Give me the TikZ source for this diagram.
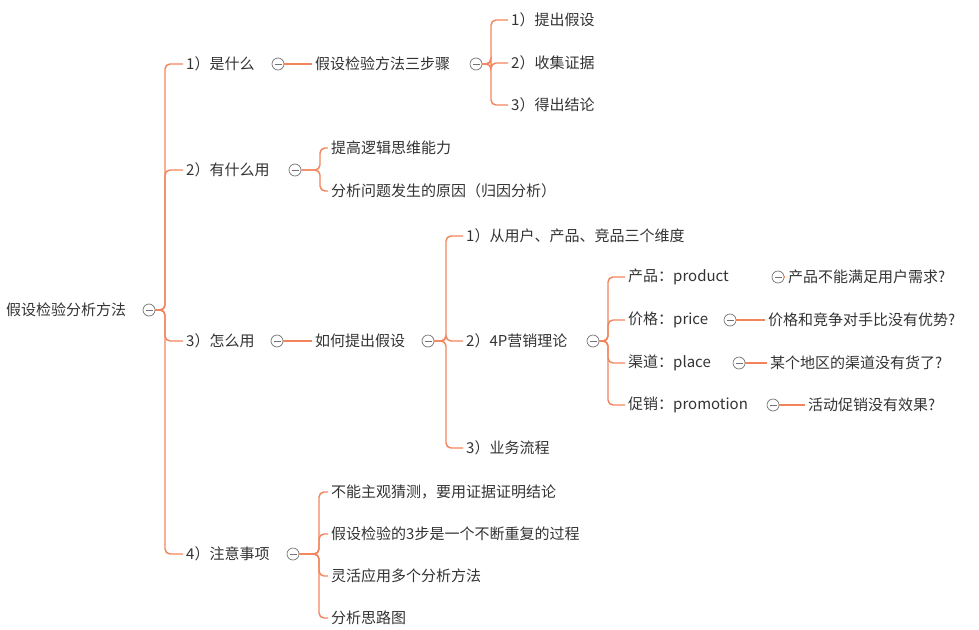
\documentclass[tikz,border=0pt]{standalone}
\usepackage{fontspec}
\setmainfont{Noto Sans CJK SC}
\begin{document}
\begin{tikzpicture}[x=1pt,y=-1pt,
  t/.style={anchor=west,inner sep=3pt,font=\fontsize{15}{17}\selectfont,text=black!80},
  fold/.style={circle,draw=black!55,line width=0.7pt,minimum size=12pt,inner sep=0pt,
    path picture={\draw[black!55,line width=0.7pt] ([xshift=-3.5pt]path picture bounding box.center)--([xshift=3.5pt]path picture bounding box.center);}}]
\useasboundingbox (0,0) rectangle (979,629);
\definecolor{ln}{HTML}{F2845C}
\tikzset{br/.style={draw=ln,line width=1.4pt,rounded corners=5pt}}
% root
\node[t] (root) at (3,310) {假设检验分析方法};
\node[fold] (rc) at (149,310) {};
% level 1
\node[t] (a1) at (183,64) {1）是什么};
\node[fold] (a1c) at (278,64) {};
\node[t] (a2) at (183,170) {2）有什么用};
\node[fold] (a2c) at (295,170) {};
\node[t] (a3) at (183,341) {3）怎么用};
\node[fold] (a3c) at (277,341) {};
\node[t] (a4) at (183,554) {4）注意事项};
\node[fold] (a4c) at (293,554) {};
\foreach \n/\y in {a1/64,a2/170,a3/341,a4/554}{\draw[br] (rc.east) -- (165,310) |- (\n.west);}
% branch 1
\node[t] (b1) at (312,64) {假设检验方法三步骤};
\node[fold] (b1c) at (476,64) {};
\draw[br] (a1c.east) -- (b1.west);
\node[t] (c1) at (508,20) {1）提出假设};
\node[t] (c2) at (508,63) {2）收集证据};
\node[t] (c3) at (508,105) {3）得出结论};
\foreach \n in {c1,c2,c3}{\draw[br] (b1c.east) -- (491,64) |- (\n.west);}
% branch 2
\node[t] (d1) at (328,148) {提高逻辑思维能力};
\node[t] (d2) at (328,191) {分析问题发生的原因（归因分析）};
\foreach \n in {d1,d2}{\draw[br] (a2c.east) -- (320,170) |- (\n.west);}
% branch 3
\node[t] (e1) at (312,341) {如何提出假设};
\node[fold] (e1c) at (428,341) {};
\draw[br] (a3c.east) -- (e1.west);
\node[t] (f1) at (463,236) {1）从用户、产品、竞品三个维度};
\node[t] (f2) at (463,341) {2）4P营销理论};
\node[fold] (f2c) at (593,341) {};
\node[t] (f3) at (463,448) {3）业务流程};
\foreach \n in {f1,f2,f3}{\draw[br] (e1c.east) -- (446,341) |- (\n.west);}
\node[t] (g1) at (625,277) {产品：product};
\node[fold] (g1c) at (778,277) {};
\node[t] (g2) at (625,320) {价格：price};
\node[fold] (g2c) at (730,320) {};
\node[t] (g3) at (625,363) {渠道：place};
\node[fold] (g3c) at (739,363) {};
\node[t] (g4) at (625,405) {促销：promotion};
\node[fold] (g4c) at (773,405) {};
\foreach \n in {g1,g2,g3,g4}{\draw[br] (f2c.east) -- (608,341) |- (\n.west);}
\node[t] (h1) at (785,277) {产品不能满足用户需求?};
\node[t] (h2) at (765,320) {价格和竞争对手比没有优势?};
\node[t] (h3) at (767,363) {某个地区的渠道没有货了?};
\node[t] (h4) at (805,405) {活动促销没有效果?};
\foreach \a/\b in {g1c/h1,g2c/h2,g3c/h3,g4c/h4}{\draw[br] (\a.east) -- (\b.west);}
% branch 4
\node[t] (k1) at (328,492) {不能主观猜测，要用证据证明结论};
\node[t] (k2) at (328,534) {假设检验的3步是一个不断重复的过程};
\node[t] (k3) at (328,576) {灵活应用多个分析方法};
\node[t] (k4) at (328,618) {分析思路图};
\foreach \n in {k1,k2,k3,k4}{\draw[br] (a4c.east) -- (319,554) |- (\n.west);}
\end{tikzpicture}
\end{document}
